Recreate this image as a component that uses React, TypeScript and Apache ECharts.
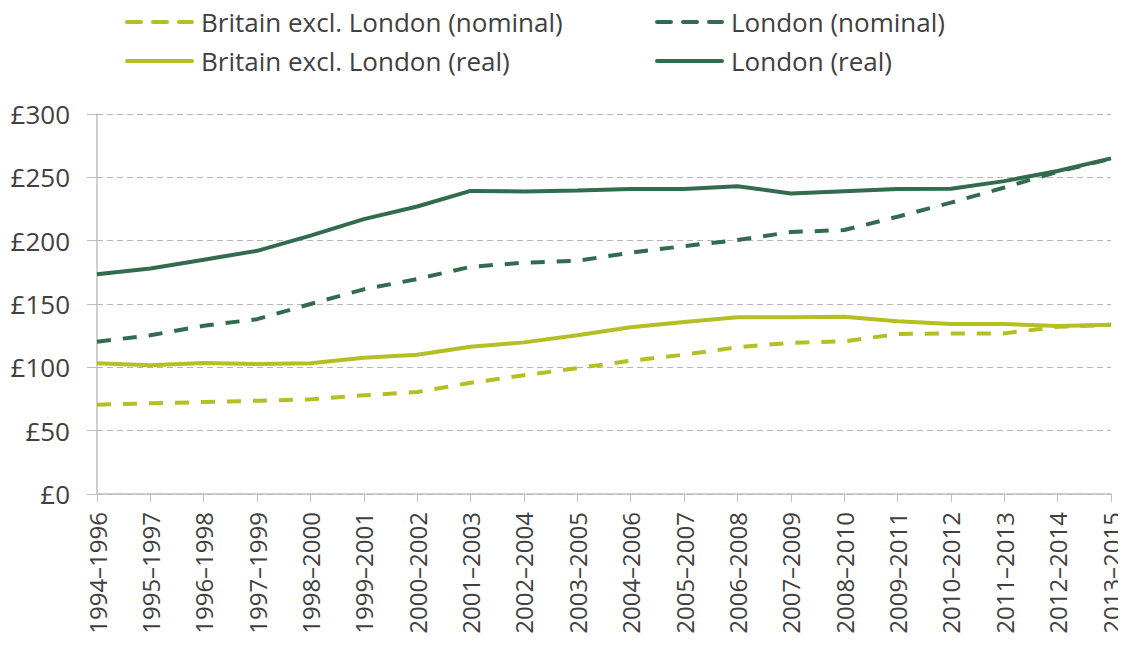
import React, { useEffect, useRef } from "react";
import * as echarts from "echarts";

const categories = [
  "1994–1996", "1995–1997", "1996–1998", "1997–1999", "1998–2000", "1999–2001",
  "2000–2002", "2001–2003", "2002–2004", "2003–2005", "2004–2006", "2005–2007",
  "2006–2008", "2007–2009", "2008–2010", "2009–2011", "2010–2012", "2011–2013",
  "2012–2014", "2013–2015",
];

const britainNominal = [70.5, 71.6, 72.6, 73.6, 74.7, 77.9, 80.5, 87.8, 93.7, 99.4, 105.2, 110, 115.8, 119.4, 120.5, 126.3, 126.8, 126.8, 132, 133.6];
const londonNominal = [120.2, 125.3, 132.8, 138, 150, 161.6, 169.7, 179.4, 182.6, 184.1, 190.5, 195.7, 200.5, 206.8, 208.4, 218.9, 230, 242, 254.4, 264.7];
const britainReal = [103.2, 101.6, 103.4, 102.6, 103.2, 107.6, 110, 116.3, 119.7, 125.3, 131.6, 135.8, 139.5, 139.5, 140, 136.3, 134.2, 134.2, 132.6, 133.6];
const londonReal = [173.5, 178, 185, 192, 204, 217, 227, 239.3, 238.8, 239.6, 240.7, 240.7, 243, 237.3, 239, 240.7, 241, 247, 255, 265];

const LIGHT = "#b3bf22";
const DARK = "#336b4f";
const FONT = "'Open Sans', sans-serif";
const TEXT = "#404040";

export default function App() {
  const ref = useRef<HTMLDivElement>(null);
  useEffect(() => {
    const chart = echarts.init(ref.current!, null, { renderer: "svg" });
    const mk = (name: string, data: number[], color: string, dashed: boolean) => ({
      name,
      type: "line",
      data,
      symbol: "none",
      lineStyle: { color, width: 4, type: dashed ? [14, 12] : "solid" },
      itemStyle: { color },
      z: dashed ? 3 : 2,
    });
    const legendCommon = {
      orient: "vertical",
      itemWidth: 65,
      itemHeight: 14,
      itemGap: 13,
      padding: 0,
      itemStyle: { opacity: 0 },
      lineStyle: { width: 4, cap: "round" },
      textStyle: { fontFamily: FONT, fontSize: 26, color: TEXT, padding: [0, 0, 0, 4] },
    };
    chart.setOption({
      animation: false,
      textStyle: { fontFamily: FONT },
      legend: [
        { ...legendCommon, left: 125, top: 9, data: ["Britain excl. London (nominal)", "Britain excl. London (real)"] },
        { ...legendCommon, left: 655, top: 9, data: ["London (nominal)", "London (real)"] },
      ],
      grid: { left: 97, right: 15, top: 114, bottom: 151, containLabel: false },
      xAxis: {
        type: "category",
        data: categories,
        boundaryGap: false,
        axisLine: { lineStyle: { color: "#bfbfbf", width: 1.5 } },
        axisTick: { show: true, length: 8, alignWithLabel: true, lineStyle: { color: "#bfbfbf" } },
        axisLabel: { rotate: 90, fontSize: 24, color: TEXT, fontFamily: FONT, margin: 18, interval: 0 },
      },
      yAxis: {
        type: "value",
        min: 0,
        max: 300,
        interval: 50,
        axisLine: { show: true, lineStyle: { color: "#bfbfbf", width: 1.5 } },
        axisTick: { show: true, length: 10, lineStyle: { color: "#bfbfbf" } },
        splitLine: { lineStyle: { color: "#b5b5b5", type: [6, 4], width: 1.2 } },
        axisLabel: { fontSize: 26, color: TEXT, fontFamily: FONT, margin: 27, formatter: (v: number) => "£" + v },
      },
      series: [
        mk("Britain excl. London (nominal)", britainNominal, LIGHT, true),
        mk("London (nominal)", londonNominal, DARK, true),
        mk("Britain excl. London (real)", britainReal, LIGHT, false),
        mk("London (real)", londonReal, DARK, false),
      ],
    });
    return () => chart.dispose();
  }, []);
  return <div ref={ref} style={{ width: 1126, height: 645, margin: -8 }} />;
}
